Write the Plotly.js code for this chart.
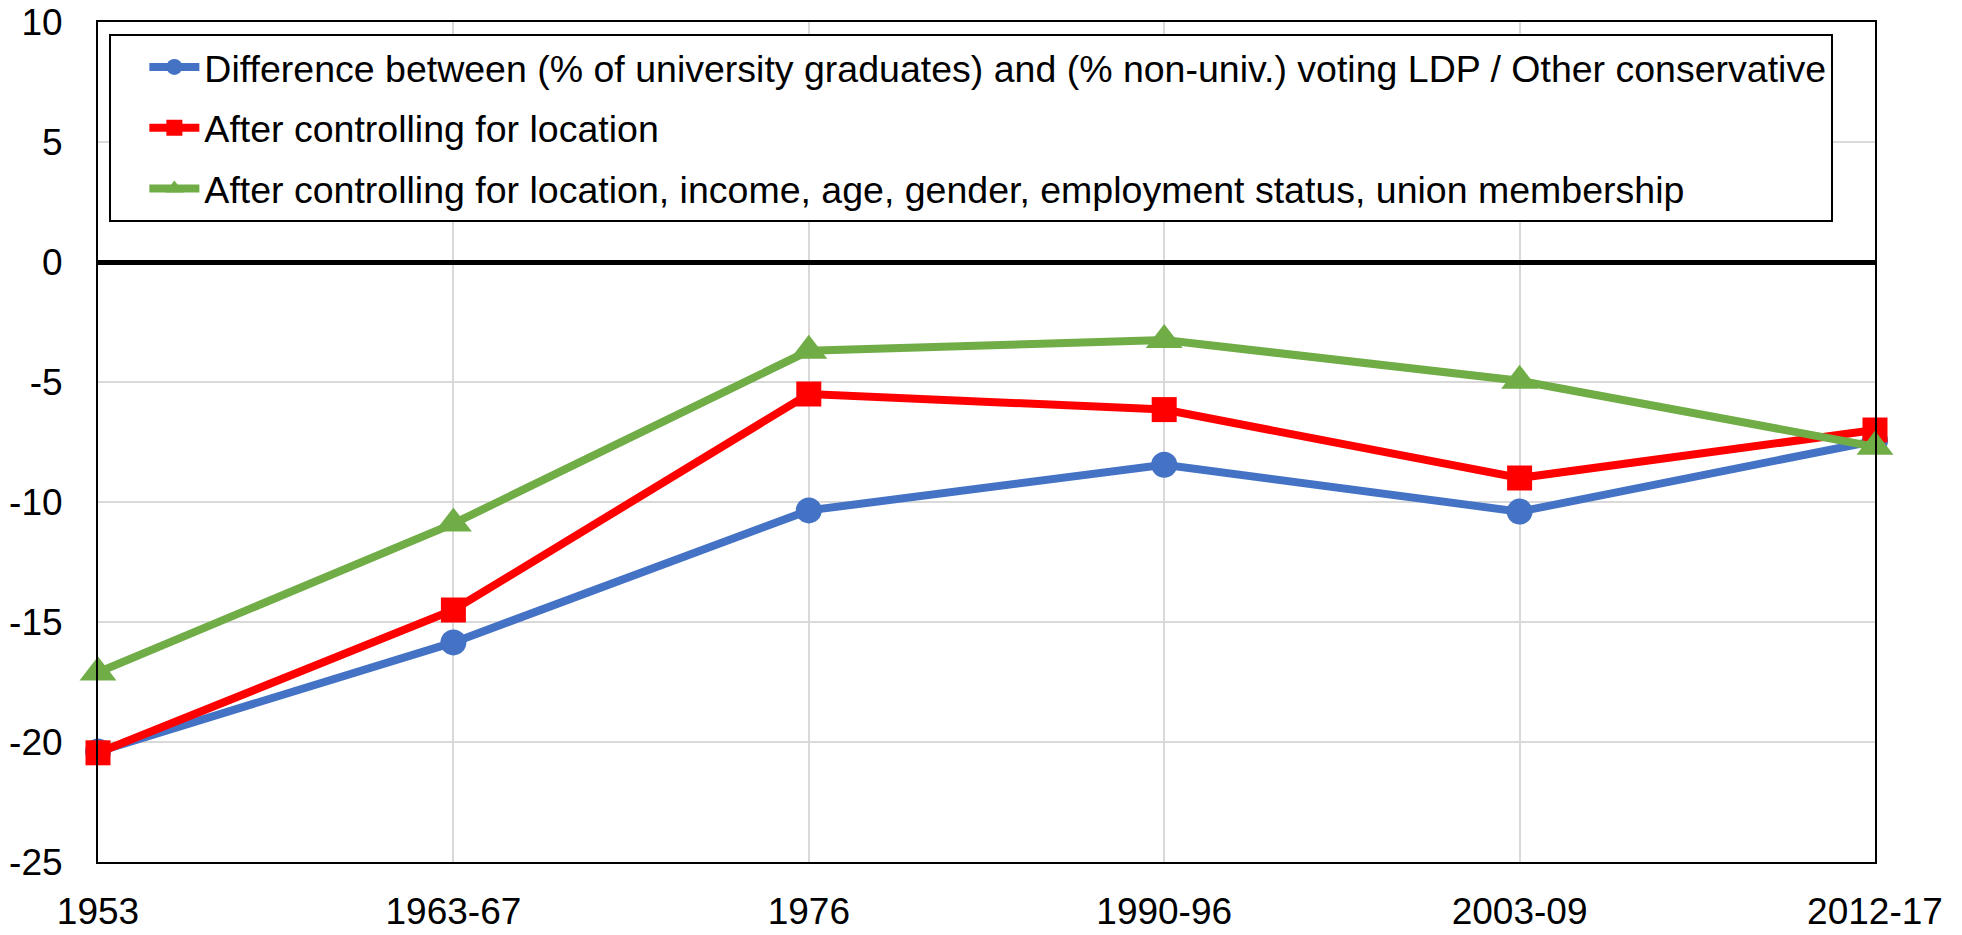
<!DOCTYPE html>
<html>
<head>
<meta charset="utf-8">
<script src="https://cdn.plot.ly/plotly-3.0.1.min.js"></script>
<style>
html,body{margin:0;padding:0;background:#fff;}
#chart{width:1962px;height:935px;}
</style>
</head>
<body>
<div id="chart"></div>
<script>
const categories = ["1953", "1963-67", "1976", "1990-96", "2003-09", "2012-17"];
const seriesNames = [
  "Difference between (% of university graduates) and (% non-univ.) voting LDP / Other conservative",
  "After controlling for location",
  "After controlling for location, income, age, gender, employment status, union membership"
];
const diffRaw = [-20.4, -15.85, -10.35, -8.45, -10.4, -7.45];
const ctrlLocation = [-20.45, -14.5, -5.5, -6.15, -9.0, -7.0];
const ctrlAll = [-17.1, -10.9, -3.7, -3.25, -4.95, -7.7];
const yTicks = [10, 5, 0, -5, -10, -15, -20, -25];

const FONT = "Liberation Sans, Arial, sans-serif";

function mk(name, y, color, symbol, size, group) {
  return {
    type: "scatter", mode: "lines+markers", name: name,
    x: categories, y: y,
    line: {color: color, width: 8},
    marker: {color: color, symbol: symbol, size: size},
    cliponaxis: false,
    legendgroup: group
  };
}

const data = [
  mk(seriesNames[0], diffRaw, "#4472C4", "circle", 26, "a"),
  mk(seriesNames[1], ctrlLocation, "#FF0000", "square", 25, "b"),
  mk(seriesNames[2], ctrlAll, "#70AD47", "triangle-up", 32, "c")
];

const layout = {
  width: 1962, height: 935,
  margin: {l: 98, r: 87, t: 22, b: 73, pad: 0},
  paper_bgcolor: "#fff", plot_bgcolor: "#fff",
  font: {family: FONT, size: 37, color: "#000"},
  showlegend: true,
  legend: {
    x: 0.0064, y: 0.9857, xanchor: "left", yanchor: "top",
    bgcolor: "#fff", bordercolor: "#000", borderwidth: 2,
    font: {family: FONT, size: 37.5, color: "#000"},
    traceorder: "grouped", tracegroupgap: 9,
    itemwidth: 50, indentation: 33
  },
  xaxis: {
    type: "category", range: [0, 5],
    showgrid: true, gridcolor: "#d9d9d9", gridwidth: 2,
    showline: true, linecolor: "#000", linewidth: 2, mirror: true,
    ticks: "outside", ticklen: 16, tickcolor: "rgba(0,0,0,0)",
    tickfont: {family: FONT, size: 37, color: "#000"},
    zeroline: false, fixedrange: true
  },
  yaxis: {
    range: [-25, 10], tickvals: yTicks, ticktext: yTicks.map(String),
    showgrid: true, gridcolor: "#d9d9d9", gridwidth: 2,
    showline: true, linecolor: "#000", linewidth: 2, mirror: true,
    zeroline: true, zerolinecolor: "#000", zerolinewidth: 5,
    ticks: "outside", ticklen: 26, tickcolor: "rgba(0,0,0,0)",
    tickfont: {family: FONT, size: 37, color: "#000"},
    fixedrange: true
  }
};

Plotly.newPlot("chart", data, layout, {displayModeBar: false, staticPlot: true});
</script>
</body>
</html>
